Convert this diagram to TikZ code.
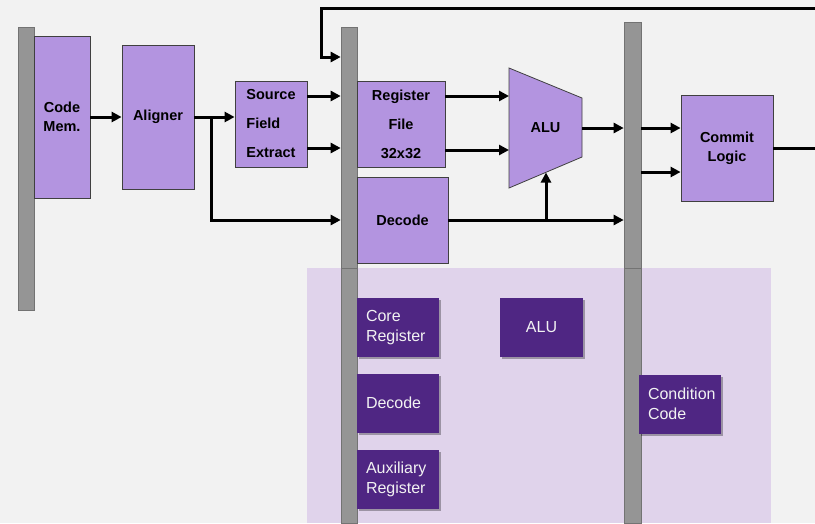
\documentclass[tikz,border=0pt]{standalone}
\usepackage{fontspec}
\setmainfont{Liberation Sans}
\usetikzlibrary{arrows.meta,shadows}
\definecolor{bgc}{HTML}{F2F2F2}
\definecolor{lilac}{HTML}{B394E0}
\definecolor{plum}{HTML}{4F2683}
\definecolor{lav}{HTML}{E0D3EB}
\definecolor{barg}{HTML}{959595}
\begin{document}
\begin{tikzpicture}[
  x=1pt, y=-1pt,
  blk/.style={draw=black!75, fill=lilac, line width=0.8pt, inner sep=0pt,
    align=center, font=\bfseries\fontsize{14.5}{19}\selectfont},
  tall/.style={font=\bfseries\fontsize{14.5}{29}\selectfont},
  dark/.style={fill=plum, text=bgc, inner sep=0pt, minimum width=82pt,
    minimum height=59pt, text width=64pt, align=left,
    font=\fontsize{16}{20.5}\selectfont,
    drop shadow={shadow xshift=2pt, shadow yshift=-2pt, opacity=0.3, fill=black}},
  bar/.style={draw=black!55, fill=barg, line width=0.6pt, minimum width=16pt, inner sep=0pt},
  wire/.style={line width=3pt, -{Triangle[length=10pt,width=10pt]}},
  line/.style={line width=3pt}
]
  \useasboundingbox[fill=bgc] (0,0) rectangle (815,523);
  \fill[lav] (307,268) rectangle (771,523);

  % registers between stages
  \node[bar, minimum height=283pt] (bar1) at (26,168.5) {};
  \node[bar, minimum height=241pt] (bar2) at (349,147.5) {};
  \node[bar, minimum height=255pt] (bar2b) at (349,395.5) {};
  \node[bar, minimum width=17pt, minimum height=246pt] (bar3) at (632.5,145) {};
  \node[bar, minimum width=17pt, minimum height=255pt] (bar3b) at (632.5,395.5) {};

  % pipeline blocks
  \node[blk, minimum width=56pt, minimum height=162pt] (cm) at (62,117) {Code\\Mem.};
  \node[blk, minimum width=72pt, minimum height=144pt] (al) at (158,117) {Aligner};
  \node[blk, tall, minimum width=72pt, minimum height=86pt, align=left] (sfe) at (271,124) {Source\\Field\\Extract};
  \node[blk, tall, minimum width=88pt, minimum height=86pt] (rf) at (401,124) {Register\\File\\32x32};
  \node[blk, minimum width=91pt, minimum height=86pt] (dec) at (402.5,220) {Decode};
  \node[blk, minimum width=92pt, minimum height=106pt] (cl) at (727,148) {Commit\\Logic};

  \draw[draw=black!75, fill=lilac, line width=0.8pt] (509,68) -- (582,98) -- (582,157) -- (509,188) -- cycle;
  \node[font=\bfseries\fontsize{14.5}{19}\selectfont] (alu) at (545.5,128) {ALU};

  % state held in each stage
  \node[dark] (core) at (398,327.5) {Core\\Register};
  \node[dark] (ddec) at (398,403) {Decode};
  \node[dark] (aux) at (398,479.5) {Auxiliary\\Register};
  \node[dark, minimum width=83pt, text width=, align=center] (salu) at (541.5,327.5) {ALU};
  \node[dark] (cc) at (680,404) {Condition\\Code};

  \coordinate (r1) at (0,96);
  \coordinate (r2) at (0,148);
  \coordinate (split) at (211,117);
  \coordinate (a1) at (509,96);
  \coordinate (a2) at (509,150);
  \coordinate (a3) at (546,172.5);
  \coordinate (aout) at (582,128);
  \coordinate (c2) at (0,172);
  \coordinate (clout) at (815,148);
  \coordinate (fbtop) at (815,8);
  \coordinate (fbturn) at (321,57);

  \draw[wire] (cm.east) -- (al.west);
  \draw[wire] (al.east) -- (al.east -| sfe.west);
  \draw[wire] (split) |- (dec -| bar2.west);
  \draw[wire] (sfe.east |- r1) -- (bar2.west |- r1);
  \draw[wire] (sfe.east |- r2) -- (bar2.west |- r2);
  \draw[wire] (rf.east |- a1) -- (a1);
  \draw[wire] (rf.east |- a2) -- (a2);
  \draw[wire] (aout) -- (aout -| bar3.west);
  \draw[wire] (dec.east) -- (dec -| bar3.west);
  \draw[wire] (dec -| a3) -- (a3);
  \draw[wire] (bar3.east |- aout) -- (aout -| cl.west);
  \draw[wire] (bar3.east |- c2) -- (c2 -| cl.west);
  \draw[line] (cl.east) -- (clout);
  \draw[wire] (fbtop) -| (fbturn) -- (fbturn -| bar2.west);
\end{tikzpicture}
\end{document}
